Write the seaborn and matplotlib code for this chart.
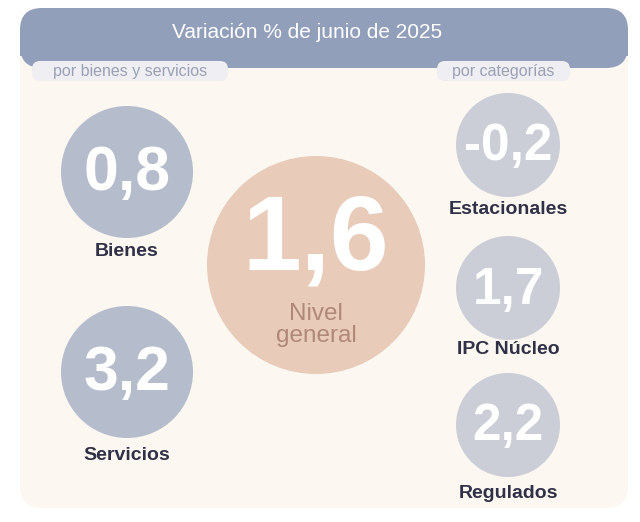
import matplotlib
matplotlib.use("Agg")
import matplotlib.pyplot as plt
import seaborn as sns
from matplotlib.patches import Circle, FancyBboxPatch

title = "Variación % de junio de 2025"
left_names = ["Bienes", "Servicios"]
left_values = ["0,8", "3,2"]
center_name = "Nivel\ngeneral"
center_value = "1,6"
right_names = ["Estacionales", "IPC Núcleo", "Regulados"]
right_values = ["-0,2", "1,7", "2,2"]
left_header = "por bienes y servicios"
right_header = "por categorías"

sns.set_theme(style="white")
plt.rcParams["font.family"] = "Liberation Sans"
fig = plt.figure(figsize=(6.4, 5.22), dpi=100)
ax = fig.add_axes([0, 0, 1, 1])
ax.set_xlim(0, 640); ax.set_ylim(522, 0); ax.axis("off")
fig.patch.set_facecolor("white")

ax.add_patch(FancyBboxPatch((20, 8), 608, 500, boxstyle="round,pad=0,rounding_size=22",
                            fc="#fdf7f1", ec="none"))
ax.add_patch(FancyBboxPatch((20, 8), 608, 60, boxstyle="round,pad=0,rounding_size=22",
                            fc="#919fbb", ec="none"))
ax.add_patch(plt.Rectangle((20, 40), 608, 16, fc="#919fbb", ec="none"))
ax.text(307, 32, title, color="white", fontsize=15, ha="center", va="center")

for x0, w, t in [(32, 196, left_header), (437, 133, right_header)]:
    ax.add_patch(FancyBboxPatch((x0, 61), w, 20, boxstyle="round,pad=0,rounding_size=8",
                                fc="#efeef2", ec="none"))
    ax.text(x0 + w / 2, 71.5, t, color="#9aa0b5", fontsize=11.5, ha="center", va="center")

for (cy, ly), name, val in zip([(172, 252), (372, 455)], left_names, left_values):
    ax.add_patch(Circle((127, cy), 66, fc="#b5bccb", ec="none"))
    ax.text(127, cy + 2, val, color="white", fontsize=45, fontweight="bold", ha="center", va="center")
    ax.text(127, ly, name, color="#2f3147", fontsize=14, fontweight="bold", ha="center", va="center")

ax.add_patch(Circle((316, 265), 109, fc="#e8cbb9", ec="none"))
ax.text(316, 242, center_value, color="white", fontsize=76, fontweight="bold", ha="center", va="center")
ax.text(316, 325, center_name, color="#b08878", fontsize=17.5, ha="center", va="center", linespacing=0.95)

for (cy, ly), name, val in zip([(145, 210), (288, 350), (425, 493)], right_names, right_values):
    ax.add_patch(Circle((508, cy), 52, fc="#cbcdd7", ec="none"))
    ax.text(508, cy + 2, val, color="white", fontsize=37, fontweight="bold", ha="center", va="center")
    ax.text(508, ly, name, color="#2f3147", fontsize=14, fontweight="bold", ha="center", va="center")

fig.savefig("out.png", dpi=100)
